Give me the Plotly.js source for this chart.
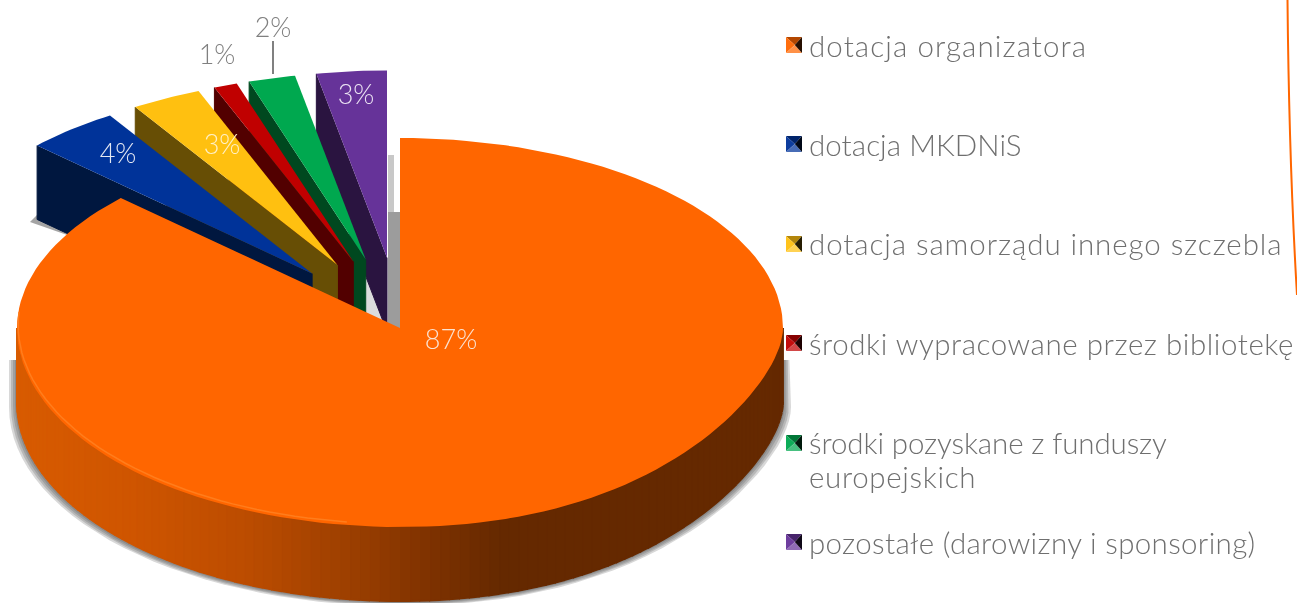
<!DOCTYPE html>
<html>
<head>
<meta charset="utf-8">
<script src="https://cdn.plot.ly/plotly-3.0.1.min.js"></script>
<style>
html,body{margin:0;padding:0;background:#fff;overflow:hidden}
#chart{width:1297px;height:603px}
#chart .main-svg{filter:blur(0.6px)}
</style>
</head>
<body>
<div id="chart"></div>
<script>
// Data
const legendLines = ['dotacja organizatora','dotacja MKDNiS','dotacja samorządu innego szczebla','środki wypracowane przez bibliotekę','środki pozyskane z funduszy','europejskich','pozostałe (darowizny i sponsoring)'];
const shares = [87,4,3,1,2,3];
const topColors = ['#ff6600','#003399','#ffc010','#c00000','#00a84f','#663399'];
const wallColors = ['#652900','#00173f','#674e05','#520000','#00481f','#2a1440'];
const pctFontColors = ['#fbe3d2','#e4e8f2','#fff0c8','#808080','#808080','#ebe3f3'];
const fontFamily = 'Lato, "Open Sans", sans-serif';

// Projection of the pie on the page
const cx=400, cy=328, rx=383, ryBack=190, ryFront=199, depth=74, pullX=.36, pullY=.372, wedgeScale=.985;
const rad=d=>d*Math.PI/180;
function rim(deg,ox,oy,scale){
  const s=Math.sin(rad(deg)), c=Math.cos(rad(deg));
  const f=scale||1;
  let dy;
  if(c>=0) dy=-ryBack*c;
  else { const k=-c; dy=ryFront*k*(s>0?1-.38*Math.pow(1-k,1.6):1); }
  return [cx+f*rx*s+(ox||0), cy+f*dy+(oy||0)];
}
const traces=[];
function poly(pts,color,lineColor,lineWidth){
  traces.push({type:'scatter',mode:'lines',x:pts.map(p=>p[0]),y:pts.map(p=>p[1]),fill:'toself',fillcolor:color,
    line:{color:lineColor||color,width:lineColor?(lineWidth||1):0},hoverinfo:'skip',showlegend:false});
}
function mix(a,b,t){return a.map((v,i)=>Math.round(v+(b[i]-v)*t));}
function sideColor(x){
  const st=[[18,[216,91,0]],[130,[207,85,0]],[250,[187,76,0]],[350,[156,63,0]],[430,[126,50,0]],[500,[101,41,0]],[790,[101,41,0]]];
  for(let i=0;i<st.length-1;i++) if(x<=st[i+1][0]){
    const t=Math.max(0,(x-st[i][0])/(st[i+1][0]-st[i][0]));
    const c=mix(st[i][1],st[i+1][1],t); return `rgb(${c[0]},${c[1]},${c[2]})`;
  }
  return 'rgb(101,41,0)';
}

// Slice angles from the values (clockwise from 12 o'clock)
const total=shares.reduce((a,b)=>a+b,0);
const starts=[], ends=[]; let acc=0;
shares.forEach(v=>{starts.push(acc/total*360); acc+=v; ends.push(acc/total*360);});

// Soft shadow under the pie
[[8,5],[6,4],[4,3],[2,2]].forEach(([ex,ey])=>{
  const pts=[[cx+rx+ex*.8,cy+32]];
  for(let d=90;d<=270;d+=3){const p=rim(d); pts.push([cx+(p[0]-cx)*(rx+ex)/rx,p[1]+depth+ey]);}
  pts.push([cx-rx-ex,cy+32]);
  poly(pts,'rgba(60,60,60,0.2)');
});
// Shadows behind the pulled slices
poly([[30,222],[37,215],[120,215],[120,245],[70,236]],'rgba(90,90,90,.55)');
poly([[388,155],[394,155],[394,212],[388,212]],'#c8c8c8');
poly([[388,212],[400,212],[400,330],[388,330]],'#9c9c9c');
poly([[366,270],[378,270],[384,330],[366,330]],'#dcdcdc');

// Pulled slices, painted from the last one back to the first
[5,4,3,2,1].forEach(i=>{
  const mid=(starts[i]+ends[i])/2;
  const ox=rx*pullX*Math.sin(rad(mid)), oy=-ryBack*pullY*Math.cos(rad(mid));
  const tip=[cx+ox,cy+oy];
  const c0=rim(starts[i],ox,oy,wedgeScale);
  poly([c0,[c0[0],c0[1]+depth],[tip[0],tip[1]+depth],tip],wallColors[i],wallColors[i]);
  const pts=[tip];
  for(let d=starts[i];d<=ends[i]+.001;d+=(ends[i]-starts[i])/12) pts.push(rim(d,ox,oy,wedgeScale));
  poly(pts,topColors[i]);
});

// Main slice: wall strips then top face
for(let d=90;d<270;d+=1.5){
  const a=rim(d), b=rim(d+1.5);
  const col=sideColor((a[0]+b[0])/2);
  poly([a,b,[b[0],b[1]+depth],[a[0],a[1]+depth]],col,col,2);
}
const facePts=[[cx,cy]];
for(let d=starts[0];d<=ends[0]+.001;d+=2) facePts.push(rim(d));
facePts.push(rim(ends[0]));
poly(facePts,topColors[0]);
// Rim highlight
const hl=[];
for(let d=188;d<=274;d+=2){const p=rim(d);hl.push([cx+(p[0]-cx)*.997,p[1]-3]);}
traces.push({type:'scatter',mode:'lines',x:hl.map(p=>p[0]),y:hl.map(p=>p[1]),line:{color:'#ff7d1c',width:1.5},hoverinfo:'skip',showlegend:false});

// Leader for 2%
traces.push({type:'scatter',mode:'lines',x:[273,273],y:[41,74],line:{color:'#808080',width:2},hoverinfo:'skip',showlegend:false});

// Legend keys
const keyX=786, keySize=16, keyYs=[45,144,244,343,443,542];
function hexRgb(h){return [1,3,5].map(i=>parseInt(h.substr(i,2),16));}
keyYs.forEach((y,i)=>{
  const base=hexRgb(topColors[i]);
  const l=keyX,r=keyX+keySize,t=y-keySize/2,b=y+keySize/2,mx=keyX+keySize*.55,my=y;
  const css=c=>`rgb(${c[0]},${c[1]},${c[2]})`;
  poly([[l,t],[r,t],[mx,my]],css(mix(base,[0,0,0],.3)));
  poly([[l,t],[l,b],[mx,my]],css(mix(base,[255,255,255],.05)));
  poly([[l,b],[r,b],[mx,my]],css(mix(base,[255,255,255],.28)));
  poly([[r,t],[r,b],[mx,my]],css(mix(base,[0,0,0],.85)));
});

// Percent labels
const pctX=[451,118,222,217,273,356], pctY=[342,156,147,57,30,97];
traces.push({type:'scatter',mode:'text',x:pctX,y:pctY,text:shares.map(v=>v+'%'),textposition:'middle center',
  textfont:{family:fontFamily,size:27,weight:300,color:pctFontColors},hoverinfo:'skip',showlegend:false});

const legendX=808, legendY=[45,144,243.5,343,442,476,542], legendTracking=[1.1,.07,.92,.56,-.1,.67,.35];
const annotations=legendLines.map((t,i)=>({xref:'x',yref:'y',x:legendX,y:legendY[i],
  text:`<span style="letter-spacing:${legendTracking[i]}px">${t}</span>`,showarrow:false,
  xanchor:'left',yanchor:'middle',align:'left',font:{family:fontFamily,size:29.5,weight:300,color:'#6f6f6f'},borderpad:0}));

const layout={width:1297,height:603,margin:{l:0,r:0,t:0,b:0},paper_bgcolor:'#fff',plot_bgcolor:'#fff',showlegend:false,
  xaxis:{range:[0,1297],visible:false,fixedrange:true},
  yaxis:{range:[603,0],visible:false,fixedrange:true},
  annotations,
  shapes:[{type:'path',path:'M 1287.5 0 Q 1289 160 1297 295',line:{color:'#ff6600',width:2}}]};
Plotly.newPlot('chart',traces,layout,{displayModeBar:false,staticPlot:true});
</script>
</body>
</html>
